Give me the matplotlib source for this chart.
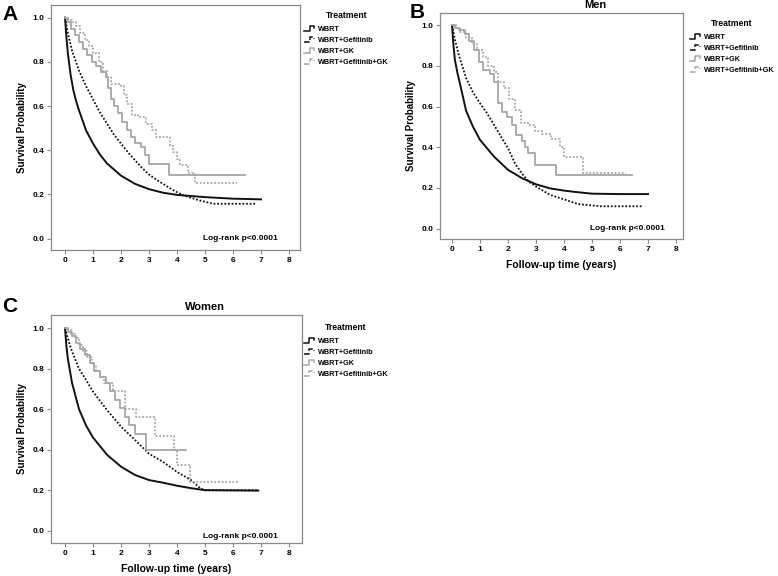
import matplotlib
matplotlib.use("Agg")
import matplotlib.pyplot as plt
from matplotlib.legend_handler import HandlerBase
from matplotlib.lines import Line2D

plt.rcParams["font.family"] = ["Liberation Sans", "DejaVu Sans"]
plt.rcParams["font.weight"] = "bold"

TREATMENTS = ["WBRT", "WBRT+Gefitinib", "WBRT+GK", "WBRT+Gefitinib+GK"]
XTICKS = [0, 1, 2, 3, 4, 5, 6, 7, 8]
YTICKS = [0.0, 0.2, 0.4, 0.6, 0.8, 1.0]

# ---- panel A: all patients ----
A_WBRT_T = [0, 0.05, 0.1, 0.2, 0.3, 0.4, 0.5, 0.75, 1.0, 1.25, 1.5, 2.0, 2.5, 3.0, 3.5, 4.0, 5.0, 6.0, 7.0]
A_WBRT_S = [1.0, 0.91, 0.84, 0.74, 0.67, 0.62, 0.58, 0.49, 0.43, 0.38, 0.34, 0.285, 0.248, 0.224, 0.208, 0.198, 0.188, 0.181, 0.178]
A_GEF_T = [0, 0.1, 0.25, 0.5, 0.75, 1.0, 1.25, 1.5, 1.75, 2.0, 2.25, 2.5, 2.75, 3.0, 3.25, 3.5, 3.75, 4.0,
           4.25, 4.5, 4.75, 5.0, 5.3, 6.85]
A_GEF_S = [1.0, 0.93, 0.85, 0.76, 0.69, 0.63, 0.57, 0.52, 0.47, 0.43, 0.39, 0.355, 0.32, 0.29, 0.268, 0.248,
           0.228, 0.21, 0.195, 0.185, 0.175, 0.167, 0.158, 0.158]
A_GK_T = [0, 0.1, 0.2, 0.35, 0.5, 0.65, 0.8, 0.95, 1.1, 1.3, 1.45, 1.55, 1.65, 1.75, 1.9, 2.05, 2.2, 2.35,
          2.5, 2.7, 2.85, 3.0, 3.7, 6.43]
A_GK_S = [1.0, 0.98, 0.95, 0.92, 0.89, 0.86, 0.83, 0.80, 0.78, 0.755, 0.73, 0.68, 0.63, 0.60, 0.57, 0.53,
          0.49, 0.46, 0.435, 0.415, 0.38, 0.34, 0.29, 0.29]
A_GEFGK_T = [0, 0.1, 0.25, 0.4, 0.55, 0.7, 0.85, 1.0, 1.2, 1.35, 1.5, 1.65, 2.0, 2.1, 2.2, 2.4, 2.6, 2.9,
             3.1, 3.25, 3.75, 3.85, 4.0, 4.1, 4.4, 4.64, 6.13]
A_GEFGK_S = [1.0, 0.99, 0.98, 0.96, 0.93, 0.90, 0.87, 0.84, 0.80, 0.76, 0.73, 0.70, 0.69, 0.65, 0.61, 0.56,
             0.55, 0.52, 0.49, 0.46, 0.42, 0.39, 0.36, 0.333, 0.295, 0.253, 0.253]

# ---- panel B: men ----
B_WBRT_T = [0, 0.05, 0.1, 0.2, 0.27, 0.5, 0.75, 1.0, 1.5, 2.0, 2.5, 3.0, 3.5, 4.0, 4.5, 5.0, 6.0, 7.0]
B_WBRT_S = [1.0, 0.90, 0.83, 0.76, 0.72, 0.58, 0.50, 0.436, 0.354, 0.289, 0.248, 0.218, 0.198, 0.187, 0.179,
            0.172, 0.17, 0.17]
B_GEF_T = [0, 0.1, 0.25, 0.5, 0.75, 1.0, 1.25, 1.5, 1.75, 2.0, 2.25, 2.5, 2.75, 3.0, 3.5, 4.0, 4.5, 5.3, 6.77]
B_GEF_S = [1.0, 0.93, 0.85, 0.74, 0.67, 0.616, 0.567, 0.51, 0.452, 0.395, 0.32, 0.27, 0.23, 0.207, 0.166,
           0.144, 0.121, 0.11, 0.11]
B_GK_T = [0, 0.1, 0.25, 0.45, 0.6, 0.8, 0.95, 1.1, 1.35, 1.5, 1.65, 1.8, 1.95, 2.15, 2.3, 2.5, 2.6, 2.72,
          2.96, 3.73, 6.44]
B_GK_S = [1.0, 0.985, 0.975, 0.955, 0.92, 0.88, 0.82, 0.78, 0.76, 0.72, 0.62, 0.575, 0.55, 0.51, 0.46, 0.43,
          0.40, 0.37, 0.313, 0.264, 0.264]
B_GEFGK_T = [0, 0.15, 0.3, 0.5, 0.7, 0.9, 1.1, 1.3, 1.5, 1.65, 1.85, 2.05, 2.25, 2.45, 2.7, 2.95, 3.2, 3.55,
             3.86, 4.0, 4.69, 6.2]
B_GEFGK_S = [1.0, 0.985, 0.965, 0.935, 0.91, 0.88, 0.846, 0.80, 0.77, 0.72, 0.69, 0.635, 0.585, 0.52, 0.51,
             0.48, 0.465, 0.44, 0.40, 0.351, 0.276, 0.276]

# ---- panel C: women ----
C_WBRT_T = [0, 0.05, 0.1, 0.25, 0.5, 0.75, 1.0, 1.5, 2.0, 2.5, 3.0, 3.5, 4.0, 4.5, 5.0, 6.9]
C_WBRT_S = [1.0, 0.91, 0.85, 0.73, 0.60, 0.52, 0.46, 0.375, 0.316, 0.275, 0.25, 0.237, 0.222, 0.21, 0.20, 0.198]
C_GEF_T = [0, 0.1, 0.25, 0.5, 0.75, 1.0, 1.5, 2.0, 2.5, 3.0, 3.5, 4.0, 4.5, 4.83, 5.0, 6.9]
C_GEF_S = [1.0, 0.95, 0.885, 0.80, 0.745, 0.687, 0.596, 0.514, 0.448, 0.38, 0.34, 0.29, 0.25, 0.209, 0.2, 0.2]
C_GK_T = [0, 0.1, 0.25, 0.4, 0.55, 0.7, 0.9, 1.05, 1.25, 1.45, 1.6, 1.8, 1.95, 2.15, 2.3, 2.5, 2.9, 4.32]
C_GK_S = [1.0, 0.98, 0.96, 0.93, 0.90, 0.87, 0.83, 0.79, 0.76, 0.73, 0.69, 0.645, 0.605, 0.563, 0.52, 0.48,
          0.40, 0.40]
C_GEFGK_T = [0, 0.1, 0.2, 0.35, 0.5, 0.65, 0.8, 0.95, 1.1, 1.25, 1.4, 1.7, 2.15, 2.55, 3.22, 3.88, 4.0,
             4.45, 6.17]
C_GEFGK_S = [1.0, 0.99, 0.97, 0.95, 0.92, 0.89, 0.86, 0.82, 0.79, 0.76, 0.73, 0.69, 0.60, 0.56, 0.47, 0.40,
             0.325, 0.242, 0.242]

PANELS = [
    dict(letter="A", title="", xlabel="", rect=[0.0656, 0.566, 0.320, 0.425],
         xlim=(-0.5, 8.39), ylim=(-0.051, 1.056), logrank_y=0.0,
         curves=[(A_WBRT_T, A_WBRT_S), (A_GEF_T, A_GEF_S), (A_GK_T, A_GK_S), (A_GEFGK_T, A_GEFGK_S)],
         letter_xy=(0.003, 0.992), legend_anchor=(1.0, 0.985), title_x=0.6),
    dict(letter="B", title="Men", xlabel="Follow-up time (years)", rect=[0.5656, 0.585, 0.3123, 0.3924],
         xlim=(-0.43, 8.25), ylim=(-0.051, 1.06), logrank_y=0.0,
         curves=[(B_WBRT_T, B_WBRT_S), (B_GEF_T, B_GEF_S), (B_GK_T, B_GK_S), (B_GEFGK_T, B_GEFGK_S)],
         letter_xy=(0.526, 0.995), legend_anchor=(1.01, 0.985), title_x=0.638),
    dict(letter="C", title="Women", xlabel="Follow-up time (years)", rect=[0.0656, 0.0573, 0.3226, 0.3958],
         xlim=(-0.5, 8.46), ylim=(-0.061, 1.066), logrank_y=-0.027,
         curves=[(C_WBRT_T, C_WBRT_S), (C_GEF_T, C_GEF_S), (C_GK_T, C_GK_S), (C_GEFGK_T, C_GEFGK_S)],
         letter_xy=(0.003, 0.485), legend_anchor=(0.99, 0.975), title_x=0.614),
]

STYLES = [
    dict(color="#111111", ls="-", lw=1.4, steps=False),
    dict(color="#111111", ls=(0, (1, 1)), lw=1.3, steps=False),
    dict(color="#a6a6a6", ls="-", lw=1.3, steps=True),
    dict(color="#a6a6a6", ls=(0, (1, 1)), lw=1.3, steps=True),
]


class StepHandler(HandlerBase):
    # SPSS-style little step glyph for the legend
    def create_artists(self, legend, orig_handle, xdescent, ydescent, width, height, fontsize, trans):
        x0 = -xdescent
        y0 = -ydescent
        xs = [x0, x0 + 0.45 * width, x0 + 0.45 * width, x0 + 0.85 * width, x0 + 0.85 * width]
        ys = [y0 + 0.1 * height, y0 + 0.1 * height, y0 + 0.9 * height, y0 + 0.9 * height, y0 + 0.55 * height]
        line = Line2D(xs, ys, color=orig_handle.get_color(), linestyle=orig_handle.get_linestyle(),
                      linewidth=1.1)
        line.set_transform(trans)
        return [line]


fig = plt.figure(figsize=(7.78, 5.76), dpi=100)
spine_col = "#8a8a8a"

for p in PANELS:
    ax = fig.add_axes(p["rect"])
    handles = []
    for (t, s), st, name in zip(p["curves"], STYLES, TREATMENTS):
        if st["steps"]:
            h, = ax.step(t, s, where="post", color=st["color"], ls=st["ls"], lw=st["lw"], label=name)
        else:
            h, = ax.plot(t, s, color=st["color"], ls=st["ls"], lw=st["lw"], label=name)
        handles.append(h)
    ax.set_xlim(*p["xlim"])
    ax.set_ylim(*p["ylim"])
    ax.set_xticks(XTICKS)
    ax.set_yticks(YTICKS)
    ax.set_yticklabels([f"{v:.1f}" for v in YTICKS])
    ax.tick_params(labelsize=6, length=3, width=0.8, color=spine_col, pad=2)
    for lab in ax.get_xticklabels() + ax.get_yticklabels():
        lab.set_fontweight("bold")
    for sp in ax.spines.values():
        sp.set_color(spine_col)
        sp.set_linewidth(0.9)
    ax.set_ylabel("Survival Probability", fontsize=7, fontweight="bold", labelpad=4)
    if p["xlabel"]:
        ax.set_xlabel(p["xlabel"], fontsize=7.5, fontweight="bold", labelpad=5)
    if p["title"]:
        ax.text(p["title_x"], 1.015, p["title"], transform=ax.transAxes, ha="center", va="bottom",
                fontsize=8, fontweight="bold")
    ax.text(6.25, p["logrank_y"], "Log-rank p<0.0001", ha="center", va="center", fontsize=6,
            fontweight="bold")
    leg = ax.legend(handles=handles, loc="upper left", bbox_to_anchor=p["legend_anchor"], frameon=False,
                    title="Treatment", fontsize=5.2, title_fontsize=6.2, handlelength=1.6, handleheight=1.0,
                    handletextpad=0.3, labelspacing=0.45, borderaxespad=0.2,
                    handler_map={Line2D: StepHandler()})
    leg.get_title().set_fontweight("bold")
    leg.get_title().set_position((0, 2))
    for txt in leg.get_texts():
        txt.set_fontweight("bold")
    fig.text(p["letter_xy"][0], p["letter_xy"][1], p["letter"], ha="left", va="top", fontsize=15,
             fontweight="bold")

fig.savefig("out.png", dpi=100)
